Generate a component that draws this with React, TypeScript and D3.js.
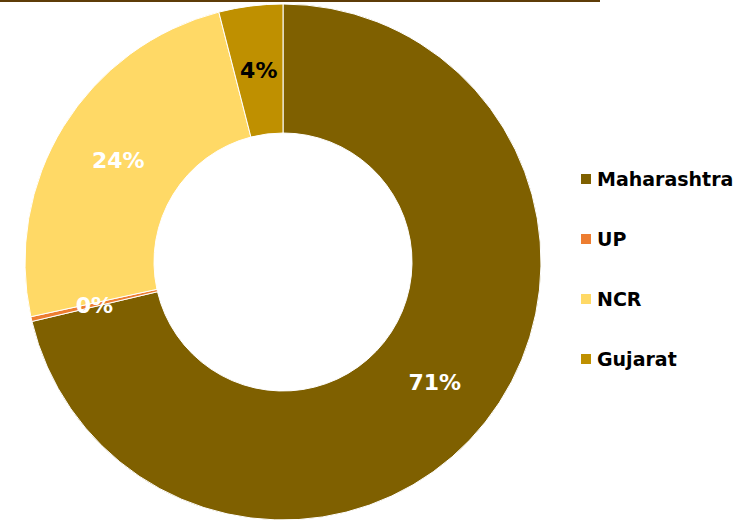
import React from "react";
import * as d3 from "d3";

const categories = ["Maharashtra", "UP", "NCR", "Gujarat"];
const values = [71.3, 0.3, 24.4, 4.0];
const labels = ["71%", "0%", "24%", "4%"];
const colors = ["#7f6000", "#ed7d31", "#ffd966", "#bf9000"];
const labelColors = ["#ffffff", "#ffffff", "#ffffff", "#000000"];

const W = 749;
const H = 521;
const cx = 283;
const cy = 262;
const R = 258;
const r = 129;

export default function App() {
  const pie = d3.pie<number>().sort(null).value((d) => d).startAngle(0).endAngle(2 * Math.PI);
  const arcs = pie(values);
  const arc = d3.arc<d3.PieArcDatum<number>>().innerRadius(r).outerRadius(R);
  const labelArc = d3.arc<d3.PieArcDatum<number>>().innerRadius((R + r) / 2).outerRadius((R + r) / 2);
  const font = "'DejaVu Sans', sans-serif";
  return (
    <svg width={W} height={H} style={{ position: "absolute", left: 0, top: 0, display: "block" }}>
      <rect width={W} height={H} fill="#ffffff" />
      <line x1={0} x2={600} y1={1} y2={1} stroke="#5e3c08" strokeWidth={2} />
      <g transform={`translate(${cx},${cy})`}>
        {arcs.map((a, i) => (
          <path key={i} d={arc(a) || ""} fill={colors[i]} stroke="#ffffff" strokeWidth={1} />
        ))}
        {arcs.map((a, i) => {
          const [x, y] = labelArc.centroid(a);
          return (
            <text key={i} x={x} y={y} dy="0.36em" textAnchor="middle" fontFamily={font} fontWeight="bold" fontSize={22} fill={labelColors[i]}>
              {labels[i]}
            </text>
          );
        })}
      </g>
      <g>
        {categories.map((c, i) => (
          <g key={c} transform={`translate(581,${179 + i * 60})`}>
            <rect x={0} y={-5} width={10} height={10} fill={colors[i]} />
            <text x={16} y={0} dy="0.36em" fontFamily={font} fontWeight="bold" fontSize={19} fill="#000000">
              {c}
            </text>
          </g>
        ))}
      </g>
    </svg>
  );
}
